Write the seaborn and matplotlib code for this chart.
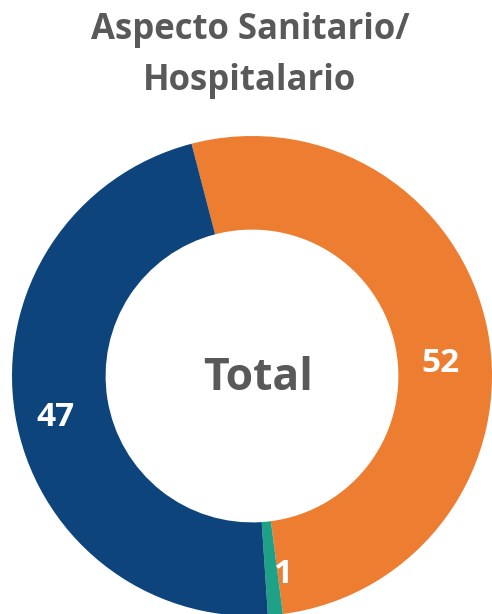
import matplotlib
matplotlib.use("Agg")
import matplotlib.pyplot as plt
import seaborn as sns

sns.set_theme(style="white")
plt.rcParams['font.family'] = ['Open Sans', 'DejaVu Sans']

categories = ["Categoría A", "Categoría B", "Categoría C"]
values = [52, 1, 47]
colors = ["#ED7D31", "#1FA187", "#0D447B"]
title = "Aspecto Sanitario/\nHospitalario"
center_text = "Total"

fig = plt.figure(figsize=(4.92, 6.14), dpi=100)
ax = fig.add_axes([12/492, -2/614, 480/492, 480/614])
wedges, texts = ax.pie(values, colors=colors, startangle=104.6, counterclock=False,
                       labels=[str(v) for v in values], labeldistance=0.8,
                       wedgeprops=dict(width=0.39, linewidth=0),
                       textprops=dict(color="white", fontsize=24, fontweight="bold",
                                      ha="center", va="center"))
# small label nudges to mimic the original label placement
nudges = [(0.0, -0.10), (0.055, -0.03), (-0.03, -0.045)]
for t, (dx, dy) in zip(texts, nudges):
    x, y = t.get_position()
    t.set_position((x + dx, y + dy))
ax.set_xlim(-1, 1)
ax.set_ylim(-1, 1)
ax.set_aspect("equal")
ax.axis("off")
ax.text(0.025, -0.012, center_text, ha="center", va="center", fontsize=32,
        fontweight="bold", color="#595959")
fig.text(0.508, 0.980, title, ha="center", va="top", fontsize=25,
         fontweight="bold", color="#595959", linespacing=1.55)
fig.savefig("out.png", dpi=100)
